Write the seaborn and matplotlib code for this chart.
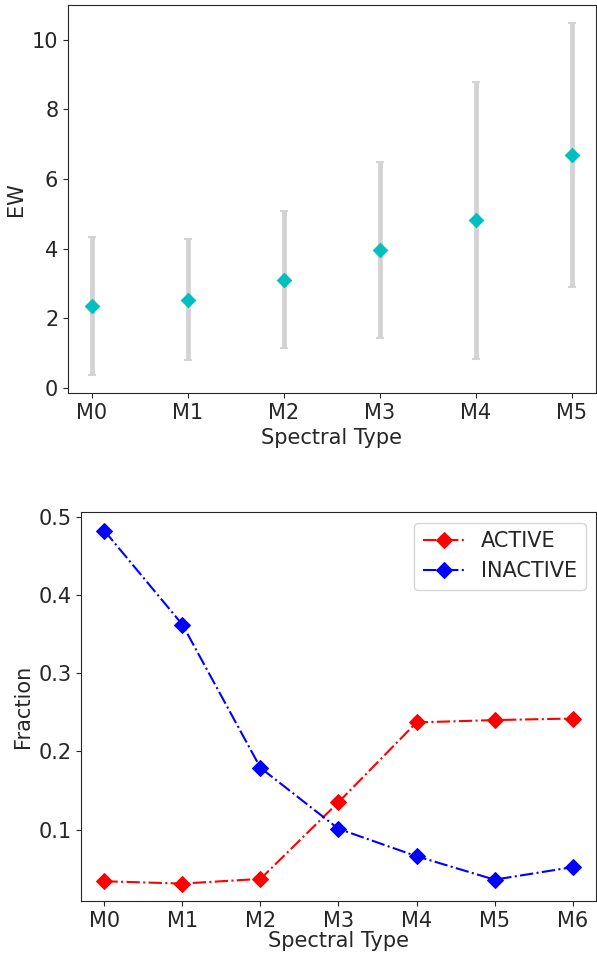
import numpy as np
import matplotlib
matplotlib.use('Agg')
import matplotlib.pyplot as plt
import seaborn as sns

# top panel: mean EW per spectral type with spread
ew_types = ['M0', 'M1', 'M2', 'M3', 'M4', 'M5']
ew_mean = [2.34, 2.53, 3.10, 3.95, 4.81, 6.70]
ew_err = [1.98, 1.74, 1.97, 2.53, 3.98, 3.80]

# bottom panel: active / inactive fractions
frac_types = ['M0', 'M1', 'M2', 'M3', 'M4', 'M5', 'M6']
frac_active = [0.034, 0.031, 0.037, 0.135, 0.237, 0.240, 0.242]
frac_inactive = [0.482, 0.362, 0.179, 0.101, 0.066, 0.036, 0.052]

sns.set_style('ticks')
plt.rcParams['font.family'] = ['DejaVu Sans']
plt.rcParams['font.size'] = 15

fig = plt.figure(figsize=(5.97, 9.59), dpi=100)

# EW plot
ax1 = fig.add_axes([0.1139, 0.590, 0.884, 0.4046])
x1 = np.arange(len(ew_types))
ax1.errorbar(x1, ew_mean, yerr=ew_err, fmt='none', ecolor='lightgray',
             elinewidth=3.5, capsize=3, capthick=1.5, zorder=1)
sns.scatterplot(x=x1, y=ew_mean, marker='D', color='c', edgecolor='c',
                s=55, ax=ax1, zorder=2)
ax1.set_xticks(x1)
ax1.set_xticklabels(ew_types)
ax1.set_xlim(-0.25, 5.25)
ax1.set_ylim(-0.16, 11.0)
ax1.set_xlabel('Spectral Type', fontsize=15)
ax1.set_ylabel('EW', fontsize=15)
ax1.tick_params(labelsize=15)

# fraction plot
ax2 = fig.add_axes([0.1357, 0.0602, 0.8626, 0.4056])
x2 = np.arange(len(frac_types))
sns.lineplot(x=x2, y=frac_active, color='r', linestyle='-.', marker='D',
             markersize=8, markeredgecolor='r', label='ACTIVE', ax=ax2)
sns.lineplot(x=x2, y=frac_inactive, color='b', linestyle='-.', marker='D',
             markersize=8, markeredgecolor='b', label='INACTIVE', ax=ax2)
ax2.set_xticks(x2)
ax2.set_xticklabels(frac_types)
ax2.set_xlim(-0.3, 6.3)
ax2.set_ylim(0.0084, 0.5056)
ax2.set_yticks([0.1, 0.2, 0.3, 0.4, 0.5])
ax2.set_xlabel('Spectral Type', fontsize=15, labelpad=0)
ax2.set_ylabel('Fraction', fontsize=15)
ax2.tick_params(labelsize=15)
ax2.legend(loc='upper right', fontsize=15)

plt.savefig('out.png', dpi=100)
